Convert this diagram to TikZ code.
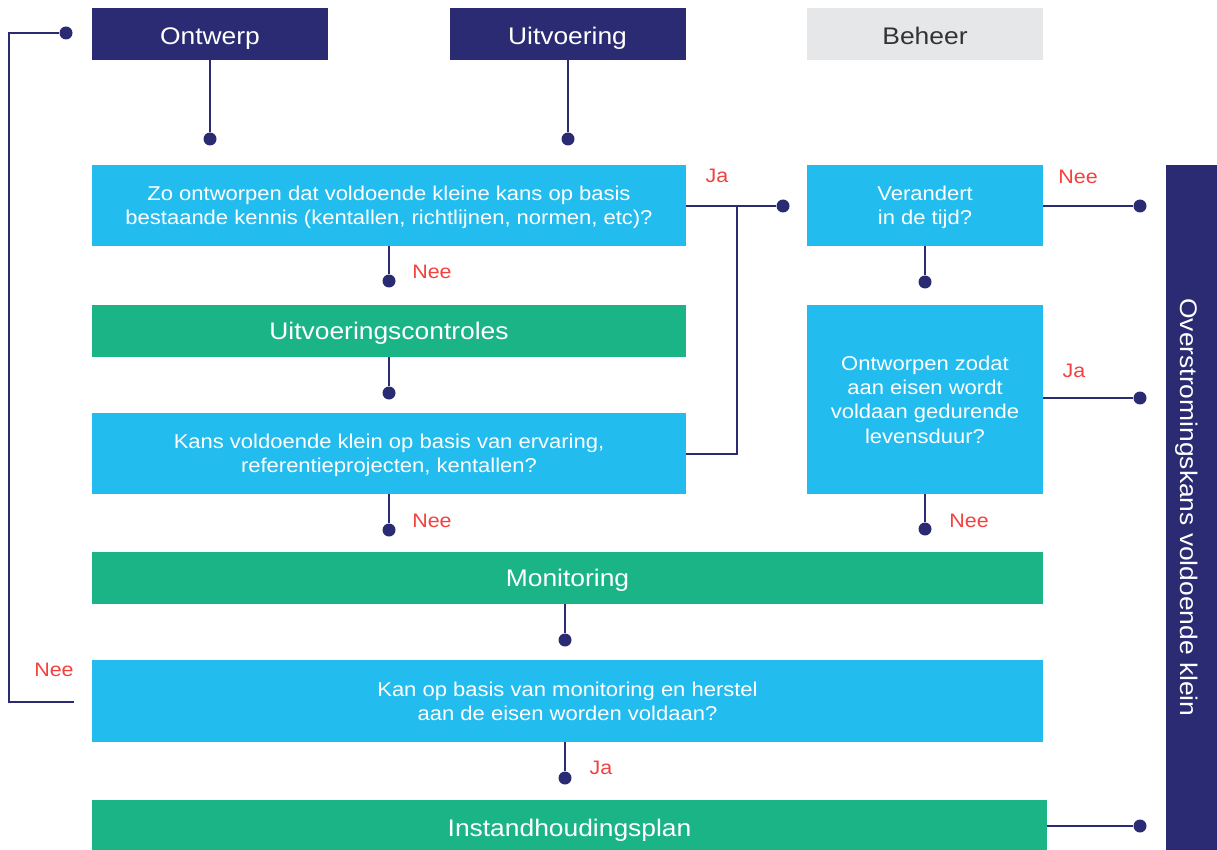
\documentclass[tikz,border=0pt]{standalone}
\usepackage{fontspec}
\setmainfont[FakeStretch=1.1]{Liberation Sans}
\definecolor{navy}{HTML}{2A2B73}
\definecolor{cyanb}{HTML}{22BCEE}
\definecolor{greenb}{HTML}{1AB487}
\definecolor{redl}{HTML}{F2413F}
\definecolor{grayb}{HTML}{E6E7E8}
\definecolor{darkt}{HTML}{333333}
\tikzset{
  box/.style={rectangle, inner sep=0pt, outer sep=0pt, align=center, text=white, text depth=0pt},
  hdr/.style={box, text height=20.5pt, fill=navy, minimum width=236pt, minimum height=52pt, font=\fontsize{24}{28}\selectfont},
  qbox/.style={box, fill=cyanb, font=\fontsize{20}{24.3}\selectfont},
  gbox/.style={box, text height=17.6pt, fill=greenb, font=\fontsize{24}{28}\selectfont},
  conn/.style={draw=navy, line width=2pt},
  dot/.style={circle, fill=navy, inner sep=0pt, minimum size=13pt},
  lbl/.style={text=redl, font=\fontsize{19.5}{22}\selectfont, inner sep=0pt},
}
\begin{document}
\begin{tikzpicture}[x=1pt, y=-1pt]
\useasboundingbox (0,0) rectangle (1217,850);
% header boxes
\node[hdr] (ontwerp) at (210,34) {Ontwerp};
\node[hdr] (uitvoering) at (567.5,34) {Uitvoering};
\node[hdr, fill=grayb, text=darkt] (beheer) at (925,34) {Beheer};
% left column
\node[qbox, minimum width=594pt, minimum height=81pt] (q1) at (389,205.5) {Zo ontworpen dat voldoende kleine kans op basis\\bestaande kennis (kentallen, richtlijnen, normen, etc)?};
\node[gbox, minimum width=594pt, minimum height=52pt] (uc) at (389,330.5) {Uitvoeringscontroles};
\node[qbox, minimum width=594pt, minimum height=81pt] (q2) at (389,453.5) {Kans voldoende klein op basis van ervaring,\\referentieprojecten, kentallen?};
% right column
\node[qbox, minimum width=236pt, minimum height=81pt] (ver) at (925,205.5) {Verandert\\in de tijd?};
\node[qbox, minimum width=236pt, minimum height=189pt] (ont) at (925,399.5) {Ontworpen zodat\\aan eisen wordt\\voldaan gedurende\\levensduur?};
% wide boxes
\node[gbox, minimum width=951pt, minimum height=52pt] (mon) at (567.5,578) {Monitoring};
\node[qbox, minimum width=951pt, minimum height=82pt] (q3) at (567.5,701) {Kan op basis van monitoring en herstel\\aan de eisen worden voldaan?};
\node[gbox, minimum width=955pt, minimum height=56pt] (ihp) at (569.5,828) {Instandhoudingsplan};
% right bar
\node[box, text height=21.6pt, fill=navy, minimum width=685pt, minimum height=51pt, rotate=-90, font=\fontsize{24}{28}\selectfont] (bar) at (1191.5,507.5) {Overstromingskans voldoende klein};
% dots
\node[dot] (d1) at (210,139) {};
\node[dot] (d2) at (568,139) {};
\node[dot] (d3) at (389,281) {};
\node[dot] (d4) at (389,393) {};
\node[dot] (d5) at (389,530) {};
\node[dot] (d6) at (783,206) {};
\node[dot] (d7) at (925,282) {};
\node[dot] (d8) at (925,529) {};
\node[dot] (d9) at (1140,206) {};
\node[dot] (d10) at (1140,398) {};
\node[dot] (d11) at (565,640) {};
\node[dot] (d12) at (565,778) {};
\node[dot] (d13) at (1140,826) {};
\node[dot] (d0) at (66,33) {};
% coordinates
\coordinate (j1) at (737,206);
\coordinate (lp1) at (9,33);
\coordinate (lp2) at (74,702);
% connectors
\draw[conn] (ontwerp.south -| d1) -- (d1);
\draw[conn] (uitvoering.south -| d2) -- (d2);
\draw[conn] (q1.south -| d3) -- (d3);
\draw[conn] (uc.south -| d4) -- (d4);
\draw[conn] (q2.south -| d5) -- (d5);
\draw[conn] (q1.east |- d6) -- (d6);
\draw[conn] (q2.east) -| (j1);
\draw[conn] (ver.south -| d7) -- (d7);
\draw[conn] (ont.south -| d8) -- (d8);
\draw[conn] (ver.east |- d9) -- (d9);
\draw[conn] (ont.east |- d10) -- (d10);
\draw[conn] (mon.south -| d11) -- (d11);
\draw[conn] (q3.south -| d12) -- (d12);
\draw[conn] (ihp.east |- d13) -- (d13);
\draw[conn, line width=2.5pt] (d0) -- (lp1) |- (lp2);
% labels
\node[lbl] (l1) at (717,176) {Ja};
\node[lbl] (l2) at (432,272) {Nee};
\node[lbl] (l3) at (432,521) {Nee};
\node[lbl] (l4) at (1078,177) {Nee};
\node[lbl] (l5) at (1074,371) {Ja};
\node[lbl] (l6) at (969,521) {Nee};
\node[lbl] (l7) at (601,768) {Ja};
\node[lbl] (l8) at (54,670) {Nee};
\end{tikzpicture}
\end{document}
